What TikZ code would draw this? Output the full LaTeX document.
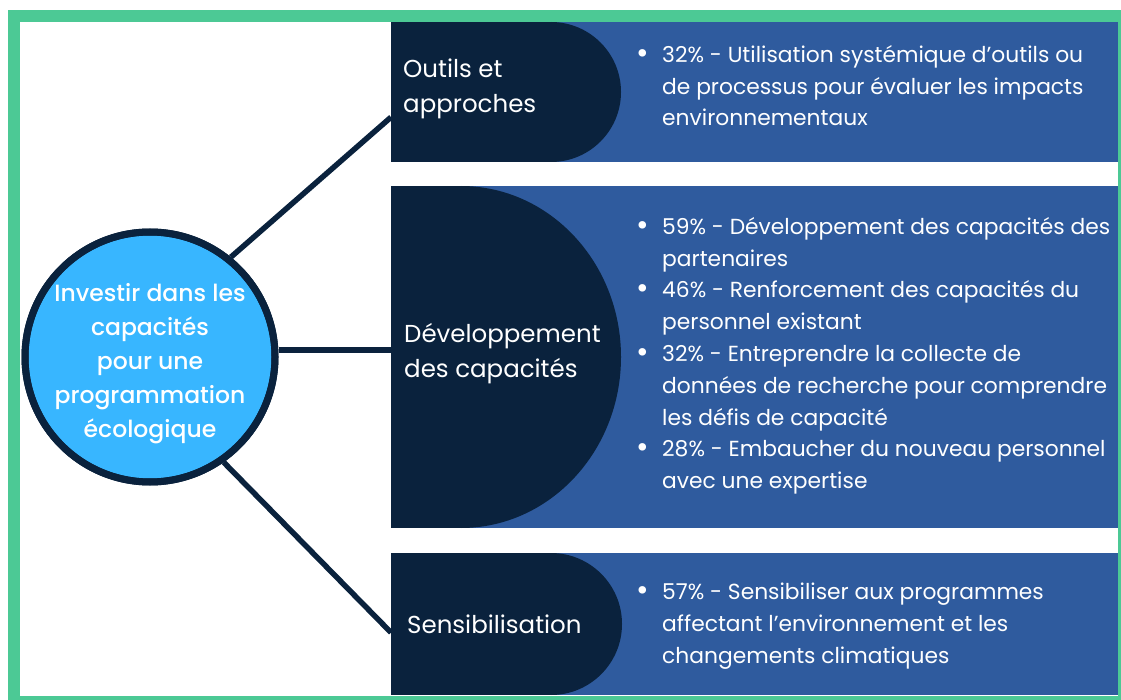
\documentclass[tikz,border=0pt]{standalone}
\usepackage{fontspec}
\usepackage{graphicx}
\setmainfont{Poppins}
\newfontfamily\hubfont{Poppins Medium}
\usetikzlibrary{calc}

\definecolor{framegreen}{HTML}{4CC995}
\definecolor{navy}{HTML}{0A223D}
\definecolor{panelblue}{HTML}{2F5B9E}
\definecolor{hubblue}{HTML}{38B6FF}

% bullet marker and continuation indent for the item lists
\newcommand{\bul}{\makebox[26pt][l]{\raisebox{-1pt}{\scalebox{1.4}{•}}}}
\newcommand{\cont}{\hspace*{26pt}}

\begin{document}
\begin{tikzpicture}[x=1pt,y=-1pt,
  panel/.style={fill=panelblue},
  headbox/.style={fill=navy, inner sep=0, outer sep=0, anchor=north west},
  conn/.style={draw=navy, line width=5.5},
  head/.style={text=white, font=\fontsize{24.5}{35}\selectfont, align=left, anchor=north west, inner sep=0},
  items/.style={text=white, font=\fontsize{21.8}{31.8}\selectfont, align=left, anchor=north west, inner sep=0}]

\useasboundingbox (0,0) rectangle (1121,700);
\clip (0,0) rectangle (1121,700);

% outer frame
\draw[framegreen, line width=12] (13.5,16) rectangle (1124,702);

% blue content panels
\fill[panel] (540,22) rectangle (1118,162);
\fill[panel] (420,186) rectangle (1118,528);
\fill[panel] (540,553) rectangle (1118,695);

% dark heading shapes: rectangle plus rounded right end
\node[headbox, minimum width=160, minimum height=140] (box1) at (391,22) {};
\fill[navy] (box1.north east) arc[start angle=-90, end angle=90, radius=70] -- (box1.south east) -- cycle;

\node[headbox, minimum width=70, minimum height=342] (box2) at (391,186) {};
\fill[navy] (box2.north east) arc[start angle=-90, end angle=90, x radius=160, y radius=171] -- (box2.south east) -- cycle;

\node[headbox, minimum width=160, minimum height=142] (box3) at (391,553) {};
\fill[navy] (box3.north east) arc[start angle=-90, end angle=90, radius=71] -- (box3.south east) -- cycle;

% central hub
\node[circle, fill=hubblue, draw=navy, line width=7, minimum size=250, inner sep=0] (hub) at (150,357) {};

% connectors
\coordinate (c1) at ($(box1.north west)!0.68!(box1.south west)$);
\coordinate (c2) at ($(box2.north west)!0.48!(box2.south west)$);
\coordinate (c3) at ($(box3.north west)!0.56!(box3.south west)$);
\draw[conn] (hub.51) -- (c1);
\draw[conn] (hub.east |- c2) -- (c2);
\draw[conn] (hub.-55) -- (c3);
\node[circle, draw=navy, line width=7, minimum size=250, inner sep=0] at (hub) {};

% hub text
\node[text=white, font=\hubfont\fontsize{23.5}{34}\selectfont, align=center, inner sep=0] (hubtext) at (150,364)
  {Investir dans les\\capacités\\pour une\\programmation\\écologique};

% headings
\node[head] (h1) at (403,59) {Outils et\\approches};
\node[head] (h2) at (404,323) {Développement\\des capacités};
\node[head] (h3) at (407,615) {Sensibilisation};

% item lists
\node[items] (l1) at (636,45) {\bul 32\% - Utilisation systémique d’outils ou\\
  \cont de processus pour évaluer les impacts\\
  \cont environnementaux};
\node[items] (l2) at (636,217) {\bul 59\% - Développement des capacités des\\
  \cont partenaires\\
  \bul 46\% - Renforcement des capacités du\\
  \cont personnel existant\\
  \bul 32\% - Entreprendre la collecte de\\
  \cont données de recherche pour comprendre\\
  \cont les défis de capacité\\
  \bul 28\% - Embaucher du nouveau personnel\\
  \cont avec une expertise};
\node[items] (l3) at (636,583) {\bul 57\% - Sensibiliser aux programmes\\
  \cont affectant l’environnement et les\\
  \cont changements climatiques};

\end{tikzpicture}
\end{document}
